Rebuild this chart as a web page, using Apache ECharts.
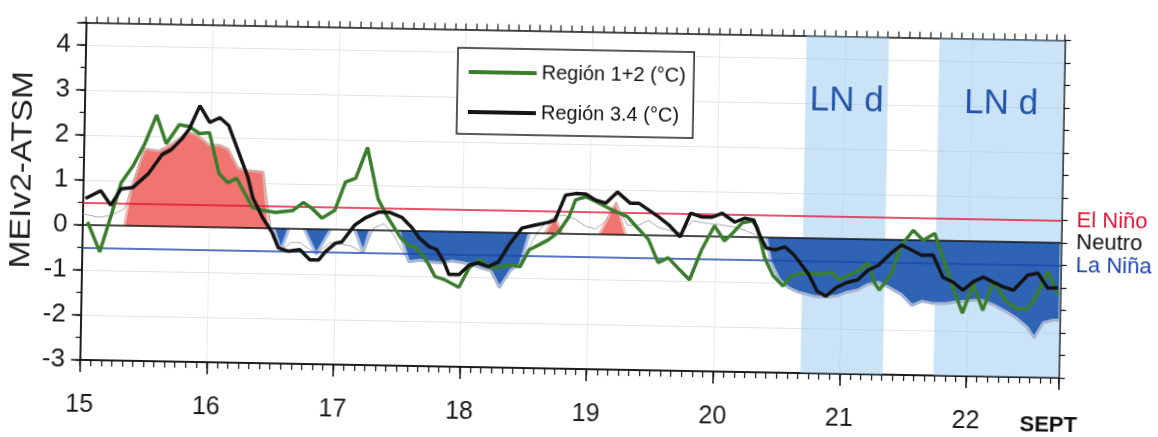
<!DOCTYPE html>
<html><head><meta charset="utf-8">
<script src="https://cdn.jsdelivr.net/npm/echarts/dist/echarts.min.js"></script>
<style>
html,body{margin:0;padding:0;background:#fff;overflow:hidden}
#c{width:1158px;height:437px;transform:rotate(1.05deg);transform-origin:50% 50%;}
</style>
</head><body><div id="c"></div>
<script>
// ---- data ----
const legendNames = ['Región 1+2 (°C)', 'Región 3.4 (°C)'];
const axisTitle = 'MEIv2-ATSM';
const endLabel = 'SEPT';
const thresholdNames = ['El Niño', 'Neutro', 'La Niña'];
const thresholdValues = [0.5, 0, -0.5];
const lnBands = [[20.69, 21.34], [21.74, 22.73]];
const lnLabels = ['LN d', 'LN d'];

const region12 = [[15.04,0.07],[15.14,-0.59],[15.22,0.18],[15.30,0.96],[15.39,1.33],[15.48,1.83],[15.57,2.47],[15.65,1.84],[15.75,2.27],[15.83,2.23],[15.91,2.08],[15.99,2.1],[16.07,1.2],[16.14,1.0],[16.21,1.1],[16.34,0.46],[16.42,0.4],[16.52,0.36],[16.66,0.41],[16.74,0.59],[16.81,0.46],[16.89,0.25],[16.99,0.43],[17.07,1.06],[17.15,1.15],[17.24,1.84],[17.33,0.7],[17.41,0.29],[17.51,-0.14],[17.58,-0.33],[17.63,-0.35],[17.70,-0.57],[17.74,-0.74],[17.79,-1.0],[17.86,-1.06],[17.98,-1.23],[18.06,-0.79],[18.14,-0.61],[18.23,-0.79],[18.31,-0.76],[18.39,-0.71],[18.46,-0.75],[18.53,-0.37],[18.61,-0.25],[18.68,-0.14],[18.76,0.04],[18.84,0.38],[18.89,0.76],[18.97,0.83],[19.05,0.73],[19.13,0.62],[19.21,0.51],[19.30,0.41],[19.38,0.17],[19.47,-0.09],[19.55,-0.6],[19.63,-0.49],[19.72,-0.75],[19.80,-0.97],[19.89,-0.31],[19.99,0.24],[20.07,-0.09],[20.13,0.07],[20.21,0.32],[20.29,0.36],[20.33,0.21],[20.39,-0.45],[20.46,-0.85],[20.54,-1.07],[20.60,-0.85],[20.68,-0.78],[20.76,-0.78],[20.84,-0.8],[20.92,-0.74],[20.98,-0.91],[21.06,-0.8],[21.14,-0.69],[21.21,-0.52],[21.26,-0.96],[21.30,-1.12],[21.39,-0.77],[21.47,-0.11],[21.56,0.22],[21.64,0.0],[21.73,0.16],[21.80,-0.39],[21.88,-1.02],[21.96,-1.6],[22.04,-0.94],[22.12,-1.53],[22.20,-0.87],[22.30,-1.31],[22.39,-1.48],[22.47,-1.48],[22.53,-1.25],[22.63,-0.64],[22.71,-1.14]];

const region34 = [[15.02,0.59],[15.14,0.77],[15.22,0.45],[15.30,0.82],[15.39,0.85],[15.51,1.16],[15.62,1.6],[15.69,1.71],[15.77,1.95],[15.83,2.18],[15.91,2.7],[15.99,2.33],[16.07,2.44],[16.14,2.27],[16.22,1.7],[16.30,1.12],[16.34,0.68],[16.42,0.24],[16.50,-0.1],[16.55,-0.43],[16.63,-0.5],[16.72,-0.46],[16.80,-0.68],[16.87,-0.68],[16.92,-0.5],[17.00,-0.3],[17.05,-0.27],[17.15,0.11],[17.23,0.27],[17.34,0.41],[17.42,0.41],[17.52,0.3],[17.60,0.08],[17.66,-0.15],[17.74,-0.34],[17.80,-0.4],[17.86,-0.68],[17.90,-0.95],[17.98,-0.95],[18.06,-0.73],[18.13,-0.68],[18.21,-0.76],[18.29,-0.65],[18.37,-0.27],[18.47,0.11],[18.57,0.18],[18.68,0.25],[18.73,0.3],[18.81,0.86],[18.89,0.9],[18.97,0.89],[19.05,0.76],[19.13,0.7],[19.22,0.95],[19.32,0.71],[19.39,0.71],[19.47,0.56],[19.55,0.41],[19.63,0.24],[19.72,-0.02],[19.80,0.51],[19.89,0.43],[19.97,0.43],[20.05,0.52],[20.15,0.33],[20.23,0.42],[20.30,0.38],[20.34,0.1],[20.40,-0.23],[20.47,-0.27],[20.55,-0.2],[20.62,-0.37],[20.68,-0.58],[20.74,-0.8],[20.81,-1.17],[20.88,-1.28],[20.96,-1.08],[21.04,-0.97],[21.13,-0.9],[21.21,-0.68],[21.29,-0.57],[21.39,-0.29],[21.47,-0.11],[21.55,-0.22],[21.63,-0.33],[21.72,-0.32],[21.80,-0.81],[21.88,-0.91],[21.96,-1.09],[22.04,-0.9],[22.12,-0.79],[22.20,-0.9],[22.28,-1.0],[22.36,-1.07],[22.47,-0.73],[22.55,-0.68],[22.63,-1.01],[22.71,-1.0]];

// MEIv2 shaded index: warm (red) and cold (blue) polygons, '-' = gap
const meiWarm = [[15.33,0],[15.38,0.85],[15.48,1.72],[15.59,1.68],[15.67,1.8],[15.75,1.95],[15.83,2.1],[15.89,2.05],[15.99,1.83],[16.07,1.83],[16.14,1.75],[16.22,1.33],[16.30,1.28],[16.42,1.25],[16.47,0],[16.6,'-'],[18.65,0],[18.73,0.38],[18.79,0],[18.9,'-'],[19.08,0],[19.21,0.72],[19.29,0]];
const meiCold = [[16.51,0],[16.57,-0.48],[16.63,0],[16.7,'-'],[16.75,0],[16.85,-0.56],[16.96,0],[17.05,'-'],[17.15,0],[17.22,-0.5],[17.27,0],[17.4,'-'],[17.50,0],[17.58,-0.68],[17.67,-0.65],[17.75,-0.68],[17.83,-0.7],[17.92,-0.65],[18.0,-0.68],[18.08,-0.72],[18.16,-0.8],[18.23,-0.85],[18.30,-1.22],[18.39,-0.82],[18.46,-0.7],[18.53,0],[19.0,'-'],[20.40,0],[20.44,-0.55],[20.51,-0.93],[20.58,-1.1],[20.66,-1.2],[20.74,-1.26],[20.81,-1.3],[20.89,-1.3],[20.97,-1.27],[21.05,-1.18],[21.13,-1.13],[21.21,-1.0],[21.29,-0.95],[21.37,-1.05],[21.47,-1.2],[21.56,-1.45],[21.64,-1.35],[21.73,-1.4],[21.82,-1.4],[21.92,-1.35],[22.0,-1.33],[22.10,-1.3],[22.20,-1.4],[22.31,-1.56],[22.39,-1.7],[22.47,-1.88],[22.53,-2.12],[22.60,-1.78],[22.68,-1.72],[22.72,-1.72]];
const meiLine = [[15.0,0.25],[15.12,0.18],[15.22,0.22],[15.33,0.38],[15.38,0.85],[15.48,1.72],[15.59,1.68],[15.67,1.8],[15.75,1.95],[15.83,2.1],[15.89,2.05],[15.99,1.83],[16.07,1.83],[16.14,1.75],[16.22,1.33],[16.30,1.28],[16.42,1.25],[16.5,-0.2],[16.57,-0.48],[16.65,-0.3],[16.72,-0.3],[16.85,-0.56],[16.95,-0.3],[17.05,-0.32],[17.12,-0.35],[17.22,-0.5],[17.3,0.05],[17.38,0.15],[17.46,-0.1],[17.52,-0.4],[17.58,-0.68],[17.67,-0.65],[17.75,-0.68],[17.83,-0.7],[17.92,-0.65],[18.0,-0.68],[18.08,-0.72],[18.16,-0.8],[18.23,-0.85],[18.30,-1.22],[18.39,-0.82],[18.46,-0.7],[18.53,-0.3],[18.6,0.05],[18.66,0.25],[18.73,0.38],[18.8,0.42],[18.89,0.33],[18.97,0.18],[19.05,0.12],[19.13,0.3],[19.21,0.72],[19.30,0.22],[19.39,0.22],[19.47,0.33],[19.55,0.18],[19.63,0.12],[19.72,0.07],[19.82,0.34],[19.9,0.3],[19.98,0.28],[20.05,0.26],[20.15,0.22],[20.23,0.15],[20.31,0.06],[20.36,-0.17],[20.40,-0.43],[20.44,-0.55],[20.51,-0.93],[20.58,-1.1],[20.66,-1.2],[20.74,-1.26],[20.81,-1.3],[20.89,-1.3],[20.97,-1.27],[21.05,-1.18],[21.13,-1.13],[21.21,-1.0],[21.29,-0.95],[21.37,-1.05],[21.47,-1.2],[21.56,-1.45],[21.64,-1.35],[21.73,-1.4],[21.82,-1.4],[21.92,-1.35],[22.0,-1.33],[22.10,-1.3],[22.20,-1.4],[22.31,-1.56],[22.39,-1.7],[22.47,-1.88],[22.53,-2.12],[22.60,-1.78],[22.68,-1.72],[22.72,-1.72]];

// ---- styling ----
const FONT = "'Liberation Sans', Arial, sans-serif";
const NARROW = "'Liberation Sans Narrow', 'Arial Narrow', 'Liberation Sans', Arial, sans-serif";
const X_MIN = 15, X_MAX = 22.73, Y_MIN = -3, Y_MAX = 4.5;
const AX = '#111';
const thresholdColors = ['#e3173a', '#111111', '#1f47b0'];
const isInt = v => Math.abs(v - Math.round(v)) < 1e-6;

const chart = echarts.init(document.getElementById('c'));
const baseX = {type:'value', min:X_MIN, max:X_MAX, splitLine:{show:false}, axisLabel:{show:false},
  axisLine:{show:true, onZero:false, lineStyle:{color:AX, width:1.5}}};
const baseY = {type:'value', min:Y_MIN, max:Y_MAX, splitLine:{show:false}, axisLabel:{show:false},
  axisLine:{show:true, onZero:false, lineStyle:{color:AX, width:1.5}}};

chart.setOption({
  animation:false,
  backgroundColor:'#fff',
  grid:{left:82.7, right:96.4, top:31.6, bottom:67.9, containLabel:false},
  legend:{
    data:legendNames, orient:'vertical', left:455, top:50,
    padding:[12,8,10,11], itemGap:16, itemWidth:68, itemHeight:4, icon:'rect',
    backgroundColor:'#fff', borderColor:'#222', borderWidth:1.5,
    textStyle:{fontSize:20, fontFamily:NARROW, color:'#111', lineHeight:24}
  },
  xAxis:[
    Object.assign({}, baseX, {position:'bottom', interval:1,
      axisTick:{show:true, length:12, lineStyle:{color:AX, width:1.5}},
      axisLabel:{show:true, margin:33, fontSize:25, fontFamily:NARROW, color:'#1a1a1a',
        formatter:v => isInt(v) ? String(Math.round(v)) : ''},
      splitLine:{show:true, lineStyle:{color:'#ececec', width:1}}}),
    Object.assign({}, baseX, {position:'bottom', interval:1/12,
      axisTick:{show:true, length:6, lineStyle:{color:AX, width:1.2}}}),
    Object.assign({}, baseX, {position:'top', interval:1/12,
      axisTick:{show:true, length:6, lineStyle:{color:AX, width:1.2}}})
  ],
  yAxis:[
    Object.assign({}, baseY, {position:'left', interval:1,
      axisTick:{show:true, length:9, lineStyle:{color:AX, width:1.5}},
      axisLabel:{show:true, margin:15, fontSize:26, fontFamily:NARROW, color:'#1a1a1a',
        formatter:v => isInt(v) ? String(Math.round(v)) : ''},
      splitLine:{show:true, lineStyle:{color:'#e2e2e2', width:1}}}),
    Object.assign({}, baseY, {position:'left', interval:0.5,
      axisTick:{show:true, length:5, lineStyle:{color:AX, width:1.2}}}),
    Object.assign({}, baseY, {position:'right', interval:0.5,
      axisTick:{show:true, length:6, lineStyle:{color:AX, width:1.2}}})
  ],
  graphic:[
    {type:'text', x:22, y:180, rotation:Math.PI/2, scaleX:1.16, silent:true,
      style:{text:axisTitle, fontSize:29, fontFamily:FONT, fill:'#222',
        align:'center', verticalAlign:'middle', textAlign:'center', textVerticalAlign:'middle'}},
    {type:'text', x:1052, y:417, silent:true,
      style:{text:endLabel, fontSize:22, fontWeight:'bold', fontFamily:FONT, fill:'#111',
        align:'center', verticalAlign:'middle', textAlign:'center', textVerticalAlign:'middle'}}
  ],
  series:[
    {name:'bands', type:'line', data:[], z:1, silent:true,
      markArea:{silent:true, itemStyle:{color:'rgba(150,200,240,0.5)'},
        label:{show:true, position:'insideTop', distance:47, color:'#2456a8', fontSize:35, fontFamily:FONT},
        data:lnBands.map((b,i) => [{xAxis:b[0], name:lnLabels[i]}, {xAxis:b[1]}])}},
    {name:'warm', type:'line', data:meiWarm, z:2, symbol:'none', silent:true, connectNulls:false,
      lineStyle:{color:'#f6b7b2', width:2.5}, areaStyle:{color:'#f07470', opacity:1, origin:0}},
    {name:'cold', type:'line', data:meiCold, z:2, symbol:'none', silent:true, connectNulls:false,
      lineStyle:{color:'#a9bde6', width:3}, areaStyle:{color:'#2f63b4', opacity:1, origin:0}},
    {name:'mei', type:'line', data:meiLine, z:3, symbol:'none', silent:true,
      lineStyle:{color:'#aaaaaa', width:1},
      markLine:{silent:true, symbol:['none','none'],
        label:{show:true, position:'end', distance:15, fontSize:22, fontFamily:NARROW, formatter:'{b}'},
        data:thresholdValues.map((v,i) => ({yAxis:v, name:thresholdNames[i],
          lineStyle:{color:thresholdColors[i], width:1.6, type:'solid'},
          label:{color:thresholdColors[i]}}))}},
    {name:legendNames[0], type:'line', data:region12, z:5, symbol:'none',
      lineStyle:{color:'#3a7d2c', width:3.5}, itemStyle:{color:'#3a7d2c'}},
    {name:legendNames[1], type:'line', data:region34, z:6, symbol:'none',
      lineStyle:{color:'#141414', width:3.5}, itemStyle:{color:'#141414'}}
  ]
});
</script></body></html>
